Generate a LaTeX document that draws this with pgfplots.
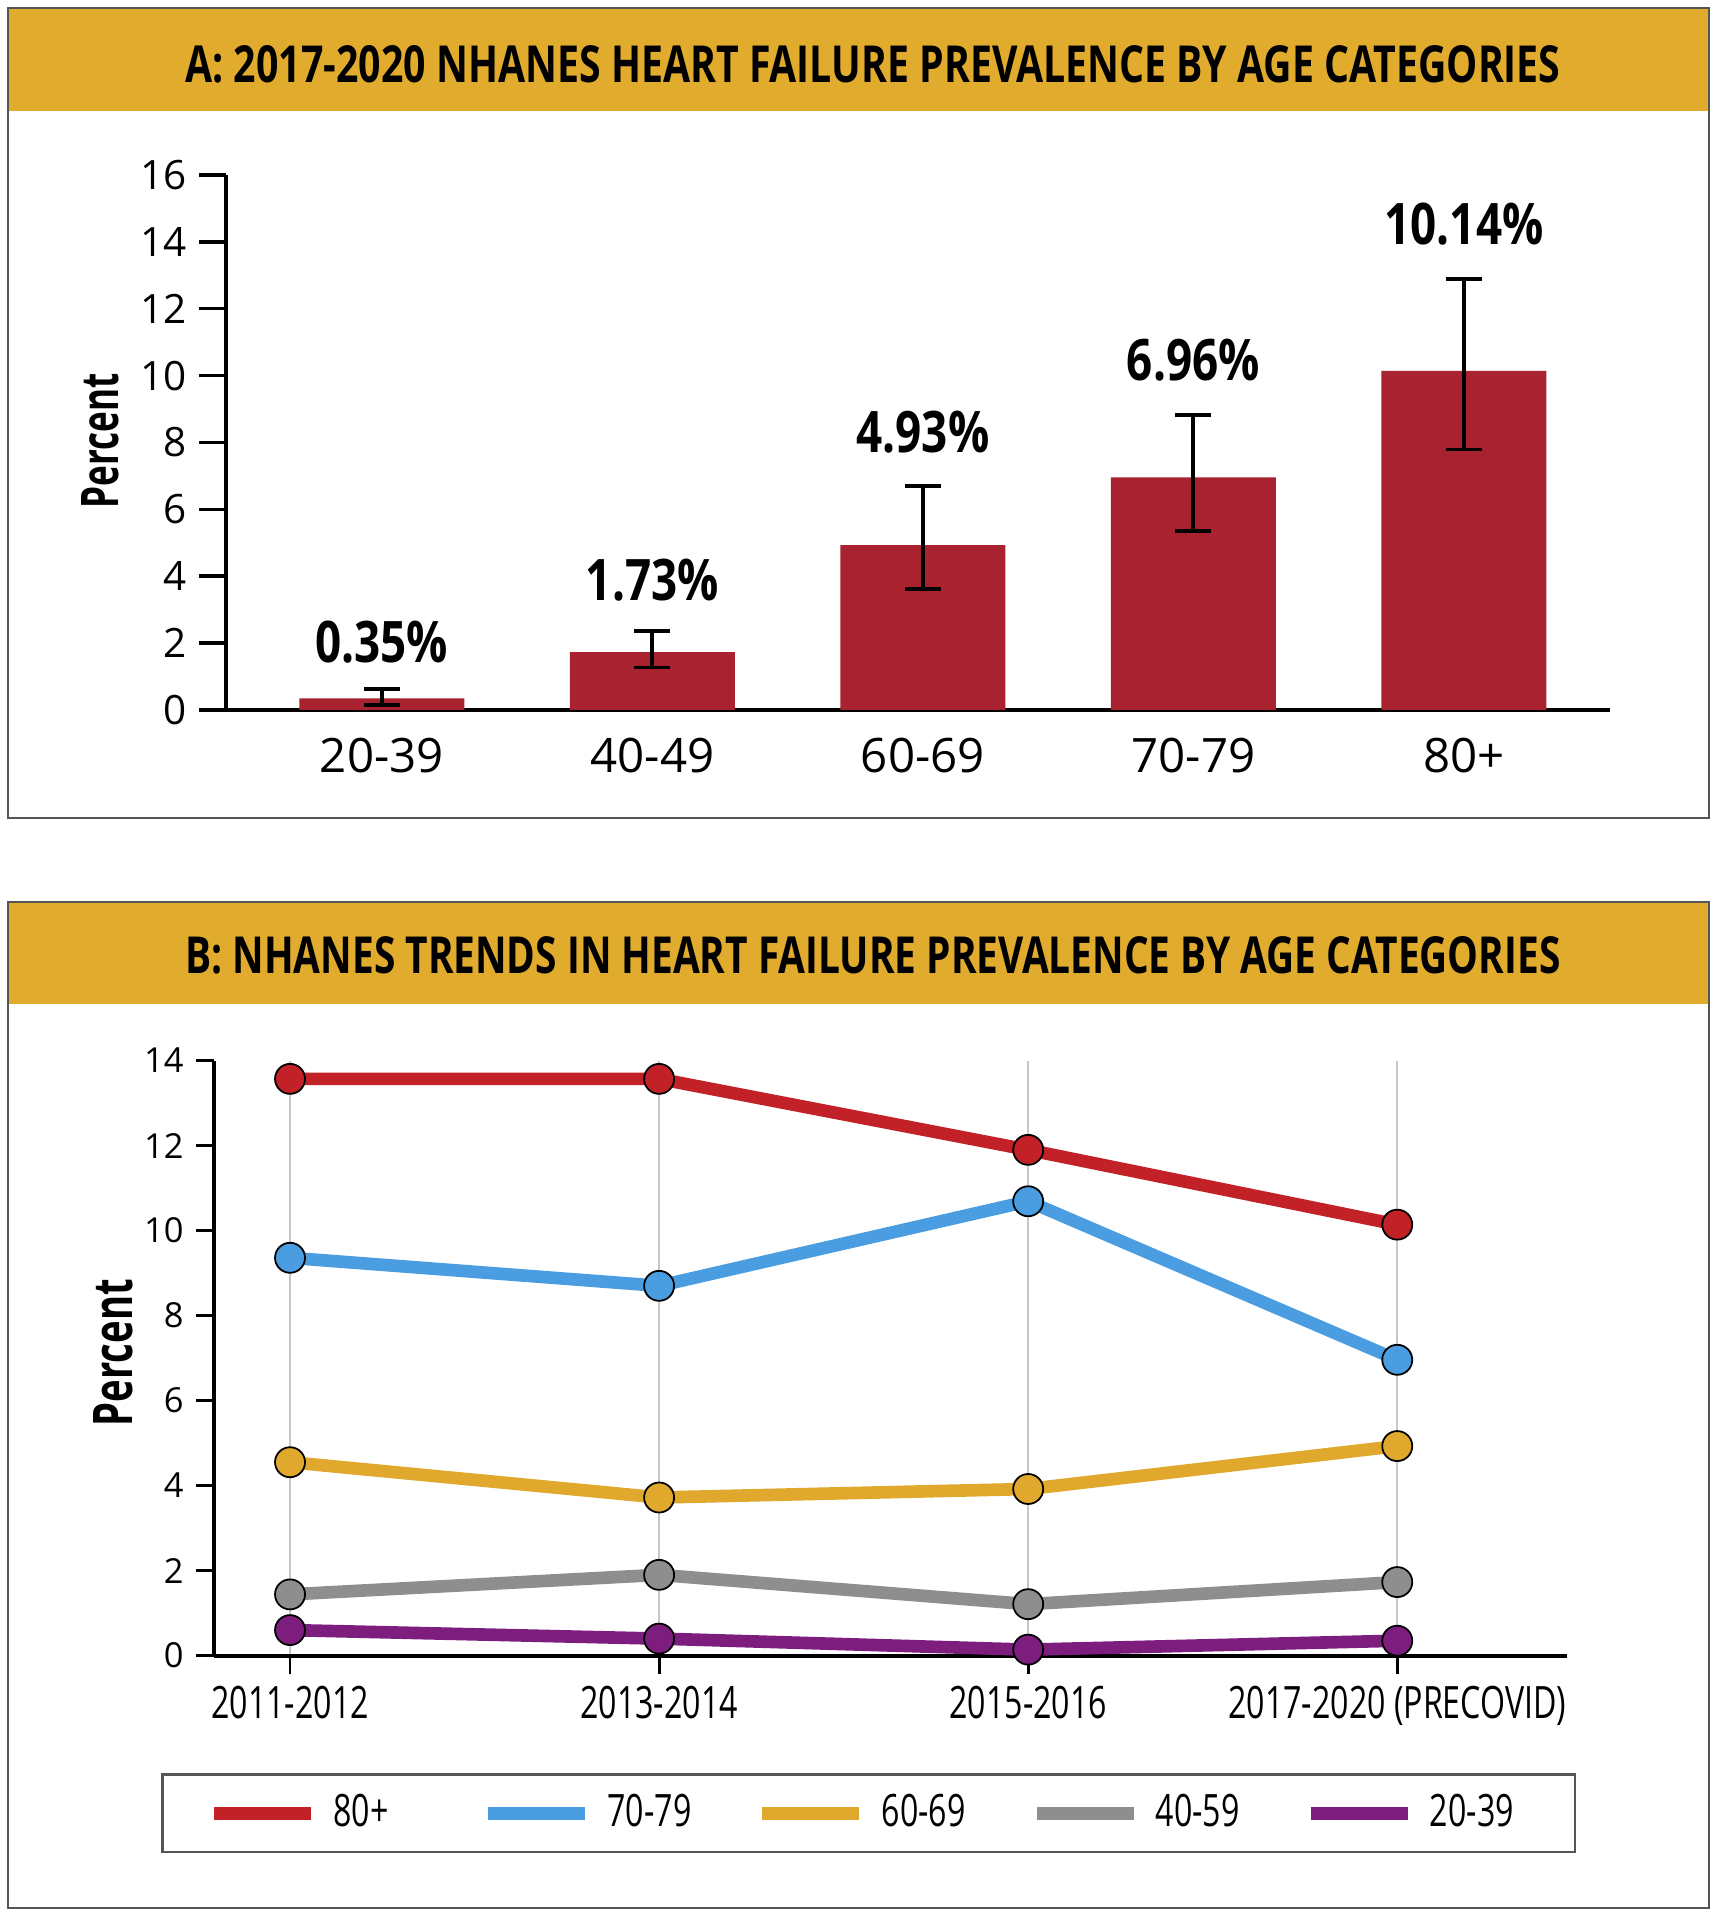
\documentclass[border=0pt]{standalone}
\usepackage{fontspec}
\setmainfont{Open Sans}
\newfontfamily\condfont[FakeStretch=0.72]{Open Sans}
\newfontfamily\condbold[FakeStretch=0.8]{Open Sans}
\usepackage{graphicx}
\usepackage{pgfplots}
\pgfplotsset{compat=1.18}
\definecolor{bandgold}{HTML}{E1AB2E}
\definecolor{framegray}{HTML}{555555}
\definecolor{barred}{HTML}{A8222F}
\definecolor{cEighty}{HTML}{C22127}
\definecolor{cSeventy}{HTML}{4A9DE0}
\definecolor{cSixty}{HTML}{E0A92D}
\definecolor{cForty}{HTML}{8E8E8E}
\definecolor{cTwenty}{HTML}{7D1E7E}
\begin{document}
\begin{tikzpicture}
\path[use as bounding box] (0,0) rectangle (17.18,19.2);
\fill[white] (0,0) rectangle (17.18,19.2);
% ---------- panel A frame ----------
\fill[bandgold] (0.08,18.09) rectangle (17.09,19.12);
\draw[framegray, line width=0.25mm] (0.08,11.02) rectangle (17.09,19.12);
\node[inner sep=0pt] at (8.73,18.56) {\resizebox{13.75cm}{0.37cm}{\bfseries A: 2017-2020 NHANES HEART FAILURE PREVALENCE BY AGE CATEGORIES}};
% ---------- panel B frame ----------
\fill[bandgold] (0.08,9.16) rectangle (17.09,10.18);
\draw[framegray, line width=0.25mm] (0.08,0.12) rectangle (17.09,10.18);
\node[inner sep=0pt] at (8.73,9.65) {\resizebox{13.75cm}{0.37cm}{\bfseries B: NHANES TRENDS IN HEART FAILURE PREVALENCE BY AGE CATEGORIES}};

% ---------- Panel A ----------
\begin{axis}[
  at={(2.26cm,12.10cm)}, anchor=south west,
  scale only axis, width=13.84cm, height=5.35cm,
  xmin=-0.576, xmax=4.54, ymin=0, ymax=16,
  axis lines=left, axis line style={-, line width=1.1pt},
  ytick={0,2,...,16},
  xtick={0,1,2,3,4}, xticklabels={20-39,40-49,60-69,70-79,80+},
  x tick style={draw=none},
  y tick style={line width=1pt, black},
  tick align=outside, major tick length=0.27cm,
  /pgf/number format/assume math mode=true,
  yticklabel style={font=\fontsize{11.5}{13}\selectfont},
  xticklabel style={font=\fontsize{13.5}{15}\selectfont, yshift=0.11cm},
  every axis y label/.style={at={(axis description cs:-0.091,0.503)}, rotate=90, anchor=center},
  ylabel={\resizebox{1.35cm}{0.37cm}{\bfseries Percent}},
  clip=false,
]
\addplot[ybar, bar width=1.65cm, fill=barred, draw=none,
  error bars/.cd, y dir=both, y explicit,
  error bar style={line width=1.1pt, black},
  error mark options={rotate=90, mark size=0.18cm, line width=1.1pt, black}]
  coordinates {
   (0,0.35)  += (0,0.27) -= (0,0.21)
   (1,1.73)  += (0,0.64) -= (0,0.46)
   (2,4.93)  += (0,1.77) -= (0,1.31)
   (3,6.96)  += (0,1.86) -= (0,1.62)
   (4,10.14) += (0,2.74) -= (0,2.35)
  };
\node[anchor=base, inner sep=0pt, font=\condbold\bfseries\fontsize{16.3}{18}\selectfont] at (axis cs:0,1.41) {0.35\%};
\node[anchor=base, inner sep=0pt, font=\condbold\bfseries\fontsize{16.3}{18}\selectfont] at (axis cs:1,3.26) {1.73\%};
\node[anchor=base, inner sep=0pt, font=\condbold\bfseries\fontsize{16.3}{18}\selectfont] at (axis cs:2,7.69) {4.93\%};
\node[anchor=base, inner sep=0pt, font=\condbold\bfseries\fontsize{16.3}{18}\selectfont] at (axis cs:3,9.84) {6.96\%};
\node[anchor=base, inner sep=0pt, font=\condbold\bfseries\fontsize{16.3}{18}\selectfont] at (axis cs:4,13.91) {10.14\%};
\end{axis}

% ---------- Panel B ----------
\begin{axis}[
  at={(2.14cm,2.644cm)}, anchor=south west,
  scale only axis, width=13.53cm, height=5.95cm,
  xmin=-0.206, xmax=3.46, ymin=0, ymax=14,
  axis lines=left, axis line style={-, line width=1.1pt},
  xtick={0,1,2,3},
  xticklabels={2011-2012,2013-2014,2015-2016,2017-2020 (PRECOVID)},
  ytick={0,2,...,14},
  xmajorgrids, grid style={black!22, line width=0.6pt},
  tick align=outside, major tick length=0.18cm,
  tick style={black, line width=0.8pt},
  /pgf/number format/assume math mode=true,
  yticklabel style={font=\fontsize{9.8}{11}\selectfont},
  xticklabel style={font=\condfont\fontsize{12.7}{14}\selectfont},
  every axis y label/.style={at={(axis description cs:-0.0747,0.509)}, rotate=90, anchor=center},
  ylabel={\resizebox{1.47cm}{0.39cm}{\bfseries Percent}},
  clip=false,
  legend columns=5,
  legend image code/.code={\draw[#1] (0cm,0cm) -- (0.97cm,0cm);},
  legend style={at={(axis description cs:0.484,-0.265)}, anchor=center,
    draw=framegray, line width=0.8pt, inner xsep=0.45cm, inner ysep=0.2cm,
    font=\condfont\fontsize{12.7}{14}\selectfont,
    nodes={inner sep=0pt},
    /tikz/every odd column/.append style={column sep=0.16cm},
    /tikz/every even column/.append style={column sep=0.485cm}},
]
\addplot[cEighty, line width=3.6pt, mark=*, mark size=1.5mm,
  mark options={fill=cEighty, draw=black, line width=0.5pt}]
  coordinates {(0,13.57) (1,13.57) (2,11.90) (3,10.14)};
\addlegendentry{\makebox[1.0cm][l]{80+}}
\addplot[cSeventy, line width=3.6pt, mark=*, mark size=1.5mm,
  mark options={fill=cSeventy, draw=black, line width=0.5pt}]
  coordinates {(0,9.36) (1,8.70) (2,10.69) (3,6.96)};
\addlegendentry{\makebox[1.0cm][l]{70-79}}
\addplot[cSixty, line width=3.6pt, mark=*, mark size=1.5mm,
  mark options={fill=cSixty, draw=black, line width=0.5pt}]
  coordinates {(0,4.55) (1,3.72) (2,3.92) (3,4.93)};
\addlegendentry{\makebox[1.0cm][l]{60-69}}
\addplot[cForty, line width=3.6pt, mark=*, mark size=1.5mm,
  mark options={fill=cForty, draw=black, line width=0.5pt}]
  coordinates {(0,1.44) (1,1.90) (2,1.21) (3,1.73)};
\addlegendentry{\makebox[1.0cm][l]{40-59}}
\addplot[cTwenty, line width=3.6pt, mark=*, mark size=1.5mm,
  mark options={fill=cTwenty, draw=black, line width=0.5pt}]
  coordinates {(0,0.60) (1,0.40) (2,0.14) (3,0.35)};
\addlegendentry{\makebox[1.0cm][l]{20-39}}
\end{axis}
\end{tikzpicture}
\end{document}
